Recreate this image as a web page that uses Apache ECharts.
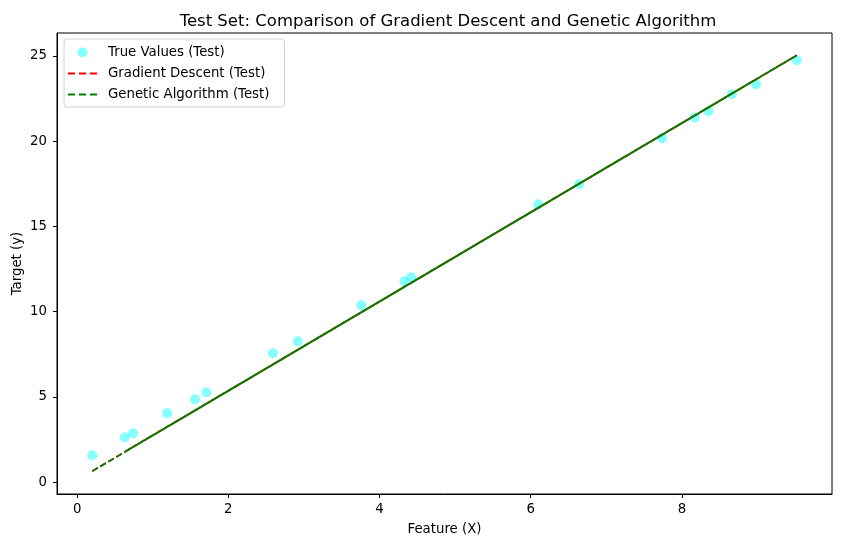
<!DOCTYPE html>
<html>
<head>
<meta charset="utf-8">
<script src="https://cdn.jsdelivr.net/npm/echarts@6/dist/echarts.min.js"></script>
<style>html,body{margin:0;padding:0;background:#fff;}#c{width:841px;height:547px;}</style>
</head>
<body>
<div id="c"></div>
<script>
// Test feature values (in the order they were plotted)
var xTest = [0.20, 6.10, 1.19, 8.66, 0.74, 3.76, 9.52, 1.56, 7.74, 0.63, 4.42, 8.98, 2.59, 6.64, 8.17, 2.92, 4.33, 8.35, 1.71];
// True target values
var yTrue = [1.58, 16.30, 4.05, 22.76, 2.87, 10.38, 24.75, 4.87, 20.18, 2.64, 12.02, 23.34, 7.57, 17.48, 21.40, 8.27, 11.79, 21.76, 5.28];
// Gradient descent predictions
var yGD = [0.65, 16.09, 3.24, 22.79, 2.07, 9.97, 25.04, 4.21, 20.39, 1.78, 11.70, 23.63, 6.91, 17.51, 21.51, 7.77, 11.46, 21.98, 4.60];
// Genetic algorithm predictions
var yGA = [0.65, 16.09, 3.24, 22.79, 2.07, 9.97, 25.04, 4.21, 20.39, 1.78, 11.70, 23.63, 6.91, 17.51, 21.51, 7.77, 11.46, 21.98, 4.60];
var xTicks = [0, 2, 4, 6, 8];
var yTicks = [0, 5, 10, 15, 20, 25];

function pairs(xs, ys) { return xs.map(function (x, i) { return [x, ys[i]]; }); }

var font = 'DejaVu Sans';
var fs = 13.3;
var dashIcon = 'path://M0,0h7v2h-7z M11,0h7v2h-7z M22,0h7v2h-7z';
var chart = echarts.init(document.getElementById('c'), null, {renderer: 'canvas'});
chart.setOption({
  animation: false,
  backgroundColor: '#fff',
  title: {
    text: 'Test Set: Comparison of Gradient Descent and Genetic Algorithm',
    left: 443, top: 8, textAlign: 'center',
    textStyle: {fontFamily: font, fontSize: 16.5, fontWeight: 'normal', color: '#000'}
  },
  grid: {left: 57, top: 33, width: 775, height: 461, show: true, borderColor: '#000', borderWidth: 1, backgroundColor: 'transparent', containLabel: false, outerBoundsMode: 'none'},
  legend: {
    orient: 'vertical', left: 64, top: 39,
    padding: [7, 15, 6, 4],
    itemWidth: 29, itemHeight: 10, itemGap: 8,
    backgroundColor: '#fff', borderColor: '#d0d0d0', borderWidth: 1, borderRadius: 3,
    textStyle: {fontFamily: font, fontSize: fs, color: '#000', padding: [0, 0, 0, 6]},
    data: [
      {name: 'True Values (Test)', icon: 'circle'},
      {name: 'Gradient Descent (Test)', icon: dashIcon},
      {name: 'Genetic Algorithm (Test)', icon: dashIcon}
    ]
  },
  xAxis: {
    type: 'value', min: -0.266, max: 9.986,
    axisLine: {show: true, onZero: false, lineStyle: {color: '#000', width: 1}},
    axisTick: {show: true, length: 4, customValues: xTicks, lineStyle: {color: '#000'}},
    axisLabel: {customValues: xTicks, margin: 9.5, fontFamily: font, fontSize: fs, color: '#000'},
    splitLine: {show: false},
    name: 'Feature (X)', nameLocation: 'middle', nameGap: 29.5, nameMoveOverlap: false,
    nameTextStyle: {fontFamily: font, fontSize: fs, color: '#000'}
  },
  yAxis: {
    type: 'value', min: -0.69, max: 26.35,
    axisLine: {show: true, onZero: false, lineStyle: {color: '#000', width: 1}},
    axisTick: {show: true, length: 4, customValues: yTicks, lineStyle: {color: '#000'}},
    axisLabel: {customValues: yTicks, margin: 10, fontFamily: font, fontSize: fs, color: '#000'},
    splitLine: {show: false},
    name: 'Target (y)', nameLocation: 'middle', nameGap: 33, nameRotate: 90, nameMoveOverlap: false,
    nameTextStyle: {fontFamily: font, fontSize: fs, color: '#000'}
  },
  series: [
    {
      name: 'True Values (Test)', type: 'scatter', symbol: 'circle', symbolSize: 10,
      itemStyle: {color: 'rgba(0,255,255,0.6)'},
      data: pairs(xTest, yTrue), z: 2
    },
    {
      name: 'Gradient Descent (Test)', type: 'line', symbol: 'none', showSymbol: false,
      lineStyle: {color: '#ff0000', width: 1.75, type: [6.5, 2.8]},
      itemStyle: {color: '#ff0000'},
      data: pairs(xTest, yGD), z: 3
    },
    {
      name: 'Genetic Algorithm (Test)', type: 'line', symbol: 'none', showSymbol: false,
      lineStyle: {color: '#008000', width: 1.75, type: [6.5, 2.8]},
      itemStyle: {color: '#008000'},
      data: pairs(xTest, yGA), z: 4
    }
  ]
});
</script>
</body>
</html>
